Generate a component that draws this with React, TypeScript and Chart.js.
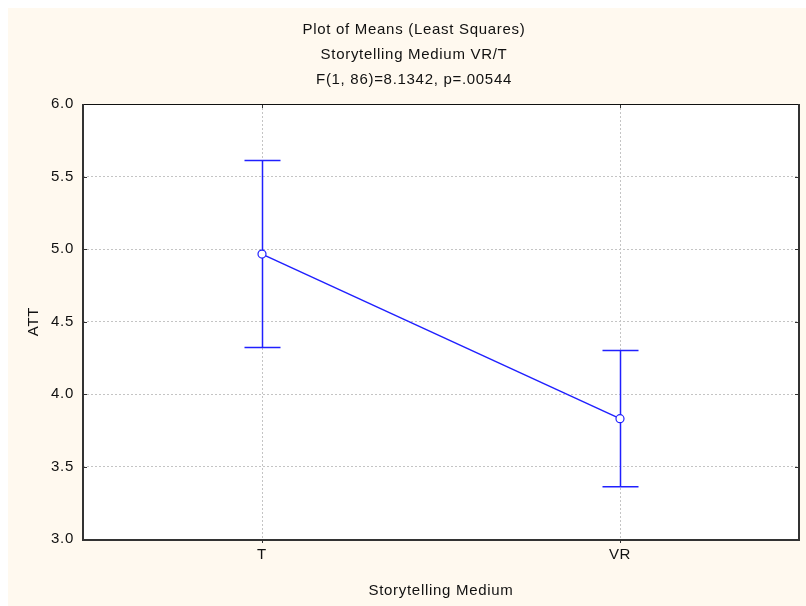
import React, { useEffect, useRef } from 'react';
import { Chart, registerables } from 'chart.js';

Chart.register(...registerables);

const titleLines = ['Plot of Means (Least Squares)', 'Storytelling Medium VR/T', 'F(1, 86)=8.1342, p=.00544'];
const categories = ['T', 'VR'];
const means = [4.965, 3.83];
const upperCI = [5.61, 4.3];
const lowerCI = [4.32, 3.36];
const yTickValues = [3.0, 3.5, 4.0, 4.5, 5.0, 5.5, 6.0];
const xAxisTitle = 'Storytelling Medium';
const yAxisTitle = 'ATT';

const FONT = '"Liberation Sans", Arial, sans-serif';
const BLUE = '#2020FF';
const CREAM = '#FFF9EF';
const SPACING = '0.7px';

const setSpacing = (chart: any) => {
  try {
    chart.ctx.letterSpacing = SPACING;
  } catch (e) {
    /* ignore */
  }
};

const framePlugin = {
  id: 'frameAndErrors',
  beforeUpdate(chart: any) {
    setSpacing(chart);
  },
  beforeLayout(chart: any) {
    setSpacing(chart);
  },
  beforeDraw(chart: any) {
    setSpacing(chart);
    const { ctx, chartArea: a, width, height } = chart;
    ctx.save();
    ctx.fillStyle = CREAM;
    ctx.fillRect(0, 0, width, height);
    ctx.fillStyle = '#FFFFFF';
    ctx.fillRect(a.left, a.top, a.right - a.left, a.bottom - a.top);
    ctx.fillStyle = '#111111';
    ctx.font = `15px ${FONT}`;
    ctx.textAlign = 'center';
    ctx.textBaseline = 'middle';
    titleLines.forEach((t, i) => {
      ctx.fillText(t, 406, 22 + i * 25);
    });
    ctx.restore();
  },
  beforeDatasetsDraw(chart: any) {
    const { ctx, scales } = chart;
    const xs = scales.x;
    const ys = scales.y;
    ctx.save();
    ctx.strokeStyle = BLUE;
    ctx.lineWidth = 1.5;
    categories.forEach((_, i) => {
      const px = Math.round(xs.getPixelForValue(i + 1)) + 0.5;
      const pu = ys.getPixelForValue(upperCI[i]);
      const pl = ys.getPixelForValue(lowerCI[i]);
      ctx.beginPath();
      ctx.moveTo(px, pu);
      ctx.lineTo(px, pl);
      ctx.moveTo(px - 18, pu);
      ctx.lineTo(px + 18, pu);
      ctx.moveTo(px - 18, pl);
      ctx.lineTo(px + 18, pl);
      ctx.stroke();
    });
    ctx.restore();
  },
  afterDraw(chart: any) {
    const { ctx, chartArea: a, scales } = chart;
    ctx.save();
    ctx.strokeStyle = '#333333';
    ctx.lineWidth = 1;
    ctx.beginPath();
    yTickValues.forEach((v) => {
      const py = Math.round(scales.y.getPixelForValue(v)) + 0.5;
      ctx.moveTo(a.left, py);
      ctx.lineTo(a.left + 4, py);
      ctx.moveTo(a.right, py);
      ctx.lineTo(a.right - 4, py);
    });
    categories.forEach((_, i) => {
      const px = Math.round(scales.x.getPixelForValue(i + 1)) + 0.5;
      ctx.moveTo(px, a.top);
      ctx.lineTo(px, a.top + 4);
      ctx.moveTo(px, a.bottom);
      ctx.lineTo(px, a.bottom + 4);
    });
    ctx.stroke();
    ctx.strokeStyle = '#111111';
    ctx.lineWidth = 1;
    ctx.beginPath();
    ctx.moveTo(a.left, Math.round(a.top) + 0.5);
    ctx.lineTo(a.right, Math.round(a.top) + 0.5);
    ctx.stroke();
    ctx.strokeStyle = '#333333';
    ctx.lineWidth = 2;
    ctx.beginPath();
    ctx.moveTo(Math.round(a.left), a.top);
    ctx.lineTo(Math.round(a.left), a.bottom + 1);
    ctx.lineTo(Math.round(a.right), a.bottom + 1);
    ctx.lineTo(Math.round(a.right), a.top);
    ctx.stroke();
    ctx.restore();
  },
};

export default function App() {
  const ref = useRef<HTMLCanvasElement | null>(null);
  useEffect(() => {
    document.body.style.margin = '0';
    if (!ref.current) return;
    const chart = new Chart(ref.current, {
      type: 'line',
      data: {
        datasets: [
          {
            data: categories.map((_, i) => ({ x: i + 1, y: means[i] })),
            borderColor: BLUE,
            borderWidth: 1.5,
            pointRadius: 4,
            pointBackgroundColor: '#FFFFFF',
            pointBorderColor: BLUE,
            pointBorderWidth: 1.2,
            tension: 0,
          },
        ],
      },
      options: {
        animation: false,
        responsive: false,
        layout: { padding: { left: 0, right: 7, top: 96, bottom: 0 } },
        plugins: {
          legend: { display: false },
          tooltip: { enabled: false },
          title: { display: false },
        },
        scales: {
          x: {
            type: 'linear',
            min: 0.5,
            max: 2.5,
            afterBuildTicks: (s: any) => {
              s.ticks = categories.map((_, i) => ({ value: i + 1 }));
            },
            afterFit: (s: any) => {
              s.height = 67;
            },
            ticks: {
              callback: (v: any) => categories[Number(v) - 1] ?? '',
              color: '#111111',
              font: { family: FONT, size: 15 },
              padding: 7,
              maxRotation: 0,
              autoSkip: false,
            },
            grid: { color: '#C4C4C4', lineWidth: 1, drawTicks: false },
            border: { display: false, dash: [2, 2] },
            title: {
              display: true,
              text: xAxisTitle,
              color: '#111111',
              font: { family: FONT, size: 15 },
              padding: { top: 0, bottom: 6 },
            },
          },
          y: {
            min: 3,
            max: 6,
            afterBuildTicks: (s: any) => {
              s.ticks = yTickValues.map((v) => ({ value: v }));
            },
            afterFit: (s: any) => {
              s.width = 75;
            },
            ticks: {
              callback: (v: any) => Number(v).toFixed(1),
              color: '#111111',
              font: { family: FONT, size: 15 },
              padding: 9,
            },
            grid: { color: '#C4C4C4', lineWidth: 1, drawTicks: false },
            border: { display: false, dash: [2, 2] },
            title: {
              display: true,
              text: yAxisTitle,
              color: '#111111',
              font: { family: FONT, size: 15 },
              padding: { top: 17, bottom: 0 },
            },
          },
        },
      },
      plugins: [framePlugin],
    } as any);
    return () => chart.destroy();
  }, []);
  return (
    <div
      style={{
        width: 806,
        height: 606,
        paddingLeft: 8,
        paddingTop: 8,
        boxSizing: 'border-box',
        overflow: 'hidden',
        background: '#FFFFFF',
      }}
    >
      <canvas ref={ref} width={798} height={598} style={{ display: 'block' }} />
    </div>
  );
}
